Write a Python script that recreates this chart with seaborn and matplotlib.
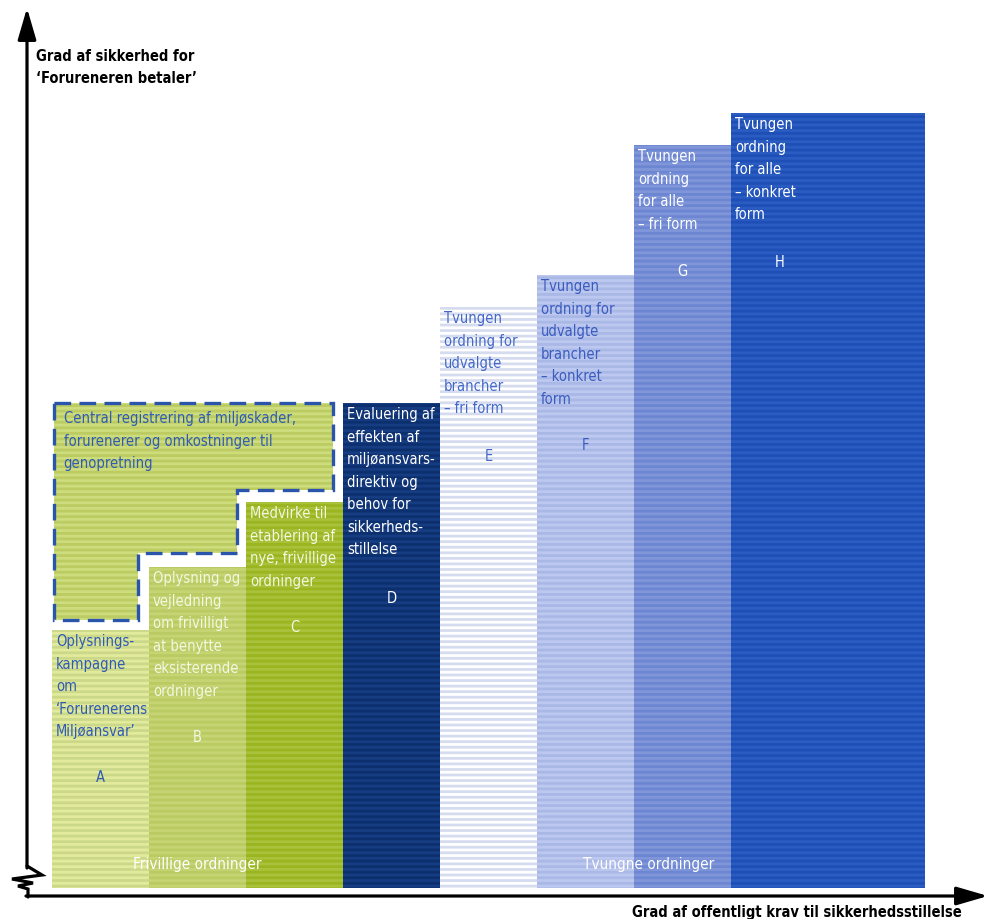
import matplotlib
matplotlib.use("Agg")
import matplotlib.pyplot as plt
from matplotlib.patches import Polygon
import numpy as np
import seaborn as sns

sns.set_style("white")
plt.rcParams['font.family'] = ['DejaVu Sans']
plt.rcParams['font.stretch'] = 'condensed'
plt.rcParams['hatch.linewidth'] = 2.0

# bar steps A..H (left edge, width, height in arbitrary units)
letters = ['A', 'B', 'C', 'D', 'E', 'F', 'G', 'H']
lefts = [0, 1, 2, 3, 4, 5, 6, 7]
widths = [1, 1, 1, 1, 1, 1, 1, 2]
heights = [2.58, 3.21, 3.86, 4.85, 5.81, 6.13, 7.43, 7.75]
fills = ['#e2eb9c', '#b9cb62', '#9ab51f', '#0c2f6e', '#ffffff', '#aab8e6', '#6c86d2', '#1d4fb6']
stripes = ['#ccd889', '#c6d474', '#a9c23c', '#163c82', '#d6dcef', '#bcc8ef', '#8096d9', '#2a5cc2']
text_colors = ['#2f5bb5', '#f4f7e2', '#f4f7e2', '#ffffff', '#4368c8', '#3a5cbf', '#ffffff', '#ffffff']
descriptions = [
    "Oplysnings-\nkampagne\nom\n\u2018Forurenerens\nMilj\u00f8ansvar\u2019",
    "Oplysning og\nvejledning\nom frivilligt\nat benytte\neksisterende\nordninger",
    "Medvirke til\netablering af\nnye, frivillige\nordninger",
    "Evaluering af\neffekten af\nmilj\u00f8ansvars-\ndirektiv og\nbehov for\nsikkerheds-\nstillelse",
    "Tvungen\nordning for\nudvalgte\nbrancher\n\u2013 fri form",
    "Tvungen\nordning for\nudvalgte\nbrancher\n\u2013 konkret\nform",
    "Tvungen\nordning\nfor alle\n\u2013 fri form",
    "Tvungen\nordning\nfor alle\n\u2013 konkret\nform",
]
letter_drop = [1.48, 1.70, 1.25, 1.95, 1.49, 1.70, 1.26, 1.49]

# dashed proposal block sitting above A, B and C
block_top = 4.85
block_left = [0.02, 0.887, 1.907]
block_right = 2.897
block_floor = [2.68, 3.35, 3.98]
block_text = "Central registrering af milj\u00f8skader,\nforurenerer og omkostninger til\ngenopretning"

groups = ["Frivillige ordninger", "Tvungne ordninger"]
group_x = [1.5, 6.15]

W, H = 986, 919
fig = plt.figure(figsize=(W / 100, H / 100), dpi=100)
ax = fig.add_axes([0, 0, 1, 1])
ax.set_xlim(-52 / 97, (W - 52) / 97)
ax.set_ylim((888 - H) / 100, 8.88)
ax.axis('off')

fs = 10.5
for i in range(len(letters)):
    ax.bar(lefts[i], heights[i], width=widths[i], align='edge', color=fills[i],
           edgecolor=stripes[i], hatch='---', linewidth=0, zorder=2)
    ax.text(lefts[i] + 0.04, heights[i] - 0.04, descriptions[i], color=text_colors[i],
            fontsize=fs, va='top', ha='left', linespacing=1.63, zorder=5)
    ax.text(lefts[i] + 0.5, heights[i] - letter_drop[i], letters[i], color=text_colors[i],
            fontsize=fs, va='center', ha='center', zorder=5)

# step-shaped outline of the block
verts = [(block_left[0], block_top), (block_right, block_top), (block_right, block_floor[2]),
         (block_left[2], block_floor[2]), (block_left[2], block_floor[1]),
         (block_left[1], block_floor[1]), (block_left[1], block_floor[0]),
         (block_left[0], block_floor[0])]
ax.add_patch(Polygon(verts, closed=True, facecolor='#bccc62', edgecolor='#cddc7c',
                     hatch='---', linewidth=0, zorder=3))
ax.add_patch(Polygon(verts, closed=True, fill=False, edgecolor='#2a55aa',
                     linestyle=(0, (5, 2.5)), linewidth=2.4, zorder=4))
ax.text(block_left[0] + 0.1, block_top - 0.08, block_text, color='#2f5bb5',
        fontsize=fs, va='top', ha='left', linespacing=1.63, zorder=5)

for g, gx in zip(groups, group_x):
    ax.text(gx, 0.23, g, color='white', fontsize=11, ha='center', va='center', zorder=5)

# axes drawn as arrows in figure pixels
def fp(x, y):
    return (x, H - y)

ax.annotate('', xy=fp(27, 8), xytext=fp(27, 868), xycoords='figure pixels',
            textcoords='figure pixels',
            arrowprops=dict(arrowstyle='-|>,head_length=1.2,head_width=0.35', color='black',
                            lw=2.3, mutation_scale=16, shrinkA=0, shrinkB=0))
ax.annotate('', xy=fp(988, 896), xytext=fp(26, 896), xycoords='figure pixels',
            textcoords='figure pixels',
            arrowprops=dict(arrowstyle='-|>,head_length=1.2,head_width=0.35', color='black',
                            lw=2.3, mutation_scale=16, shrinkA=0, shrinkB=0))
zig = np.array([(27, 866), (42, 875), (12, 879), (33, 883), (18, 886), (28, 889), (28, 897)])
fig.add_artist(plt.Line2D(zig[:, 0] / W, 1 - zig[:, 1] / H, color='black', lw=2.3,
                          transform=fig.transFigure, solid_joinstyle='miter'))

fig.text(36 / W, 1 - 49 / H, "Grad af sikkerhed for\n\u2018Forureneren betaler\u2019", fontsize=10.5,
         fontweight='bold', va='top', ha='left', linespacing=1.6, color='black')
fig.text(962 / W, 1 - 912 / H, "Grad af offentligt krav til sikkerhedsstillelse", fontsize=10.5,
         fontweight='bold', va='center', ha='right', color='black')

fig.savefig('out.png', dpi=100)
